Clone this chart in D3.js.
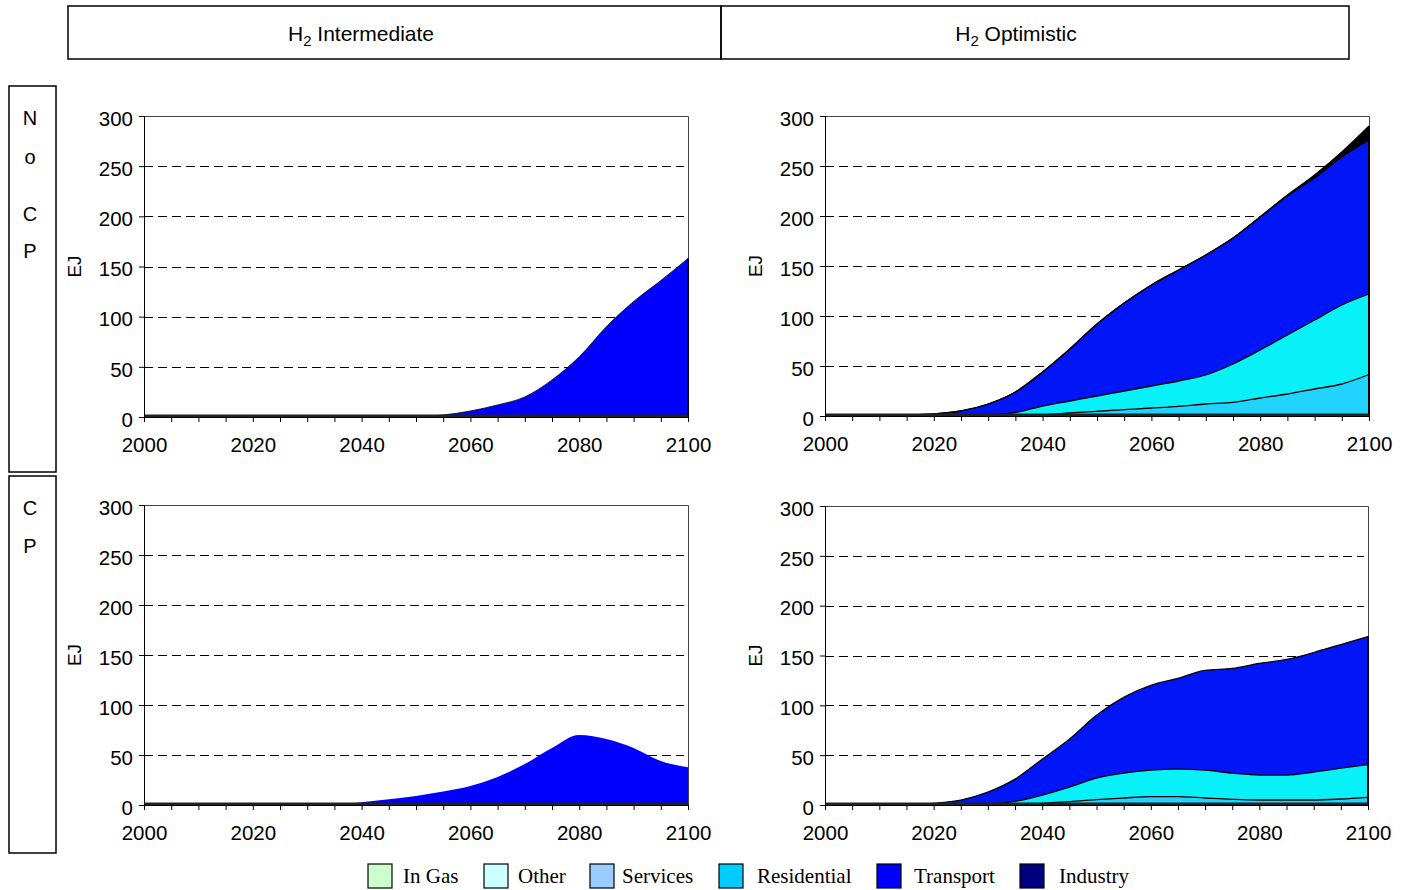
<!DOCTYPE html>
<html>
<head>
<meta charset="utf-8">
<script src="https://cdn.jsdelivr.net/npm/d3@7/dist/d3.min.js"></script>
<style>
  body { margin: 0; background: #fff; }
  svg text { font-family: "Liberation Sans", Arial, sans-serif; fill: #000; }
</style>
</head>
<body>
<div id="chart"></div>
<script>
// years every 5
const years = [2000, 2005, 2010, 2015, 2020, 2025, 2030, 2035, 2040, 2045, 2050,
               2055, 2060, 2065, 2070, 2075, 2080, 2085, 2090, 2095, 2100];

const yTicks = [0, 50, 100, 150, 200, 250, 300];
const xLabelYears = [2000, 2020, 2040, 2060, 2080, 2100];

const legendNames = ['In Gas', 'Other', 'Services', 'Residential', 'Transport', 'Industry'];
const legendColors = ['#ccffcc', '#ccffff', '#99ccff', '#00ccff', '#0000ff', '#000080'];

// No CP, H2 Intermediate
const noCpInterTransport = [0, 0, 0, 0, 0, 0, 0, 0, 0, 0, 0.5, 2, 6, 12, 20, 37, 60, 90, 115, 136, 158];

// No CP, H2 Optimistic
const noCpOptServices    = [0, 0, 0, 0, 0, 0, 0, 0.3, 1.3, 3, 4.7, 6.4, 8, 9.7, 12, 13.7, 18, 22, 27, 32, 41.5];
const noCpOptResidential = [0, 0, 0, 0, 0, 0, 0.5, 3.2, 8.7, 12, 15.3, 18.6, 22, 25.3, 29, 38.3, 48, 59, 69, 79, 80.5];
const noCpOptTransport   = [0.3, 0.3, 0.5, 1, 2, 5, 11.5, 20.5, 34, 52, 72, 88, 101, 111, 120, 126, 133, 139, 142, 148, 154];
const noCpOptIndustry    = [0, 0, 0, 0, 0, 0, 0, 0, 0, 0, 0, 0, 0, 0, 0, 0, 0.3, 1, 3, 5, 14];

// CP, H2 Intermediate
const cpInterTransport = [0, 0, 0, 0, 0, 0, 0, 0.5, 2.7, 5.7, 9, 13.4, 19, 28, 41, 57, 70, 66, 57, 44, 37.8];

// CP, H2 Optimistic
const cpOptServices    = [0, 0, 0, 0, 0, 0, 0, 0, 1.7, 3.4, 5.4, 7, 8.4, 8.4, 7, 5.7, 5, 5, 5, 6, 7.7];
const cpOptResidential = [0, 0, 0, 0, 0, 0, 1, 3.7, 8.3, 14.6, 21.6, 25, 26.6, 27.6, 28, 26.3, 25, 25, 28, 31, 32.9];
const cpOptTransport   = [0, 0, 0, 0.3, 1.7, 5, 12, 22.3, 36, 48, 63, 76, 85, 91, 100, 105, 112, 116, 120, 124, 128.4];

const panels = [
    { x0: 144, x1: 688, y0: 417, y1: 116, outline: 0.8,
      series: [{ key: 'Transport', values: noCpInterTransport, color: '#0000ff' }] },
    { x0: 825, x1: 1369, y0: 416, y1: 116, outline: 1.3,
      series: [
        { key: 'Services', values: noCpOptServices, color: '#22d3ff' },
        { key: 'Residential', values: noCpOptResidential, color: '#08f0f8' },
        { key: 'Transport', values: noCpOptTransport, color: '#0016f6' },
        { key: 'Industry', values: noCpOptIndustry, color: '#000000' }] },
    { x0: 144, x1: 688, y0: 805, y1: 505, outline: 0,
      series: [{ key: 'Transport', values: cpInterTransport, color: '#0000ff' }] },
    { x0: 825, x1: 1368, y0: 805, y1: 506, outline: 1.3,
      series: [
        { key: 'Services', values: cpOptServices, color: '#22d3ff' },
        { key: 'Residential', values: cpOptResidential, color: '#08f0f8' },
        { key: 'Transport', values: cpOptTransport, color: '#0016f6' }] }
];

const svg = d3.select('#chart').append('svg')
    .attr('width', 1412)
    .attr('height', 890);

// Column headers
const headers = [
    { x: 68, w: 653, tx: 361, label: 'Intermediate' },
    { x: 721, w: 628, tx: 1016, label: 'Optimistic' }
];
headers.forEach(h => {
    svg.append('rect')
        .attr('x', h.x).attr('y', 6).attr('width', h.w).attr('height', 53)
        .attr('fill', 'none').attr('stroke', '#000').attr('stroke-width', 1.5);
    const t = svg.append('text')
        .attr('x', h.tx).attr('y', 41)
        .attr('text-anchor', 'middle')
        .style('font-size', '21px');
    t.append('tspan').text('H');
    t.append('tspan').text('2').attr('dy', 5).style('font-size', '15px');
    t.append('tspan').text(' ' + h.label).attr('dy', -5);
});

// Row labels
const rows = [
    { y: 86, h: 386, letters: [['N', 118], ['o', 157], ['C', 214], ['P', 251]] },
    { y: 476, h: 377, letters: [['C', 508], ['P', 546]] }
];
rows.forEach(r => {
    svg.append('rect')
        .attr('x', 9).attr('y', r.y).attr('width', 47).attr('height', r.h)
        .attr('fill', 'none').attr('stroke', '#000').attr('stroke-width', 1.5);
    r.letters.forEach(([ch, cy]) => {
        svg.append('text')
            .attr('x', 30).attr('y', cy + 7)
            .attr('text-anchor', 'middle')
            .style('font-size', '20px')
            .text(ch);
    });
});

// Panels
panels.forEach(p => {
    const g = svg.append('g');

    const x = d3.scaleLinear().domain([2000, 2100]).range([p.x0, p.x1]);
    const y = d3.scaleLinear().domain([0, 300]).range([p.y0, p.y1]);

    // frame (top + right)
    g.append('path')
        .attr('d', `M${p.x0},${p.y1 + 0.5}H${p.x1 + 0.5}V${p.y0}`)
        .attr('fill', 'none').attr('stroke', '#444').attr('stroke-width', 1);

    // dashed grid
    g.selectAll('line.grid')
        .data(yTicks.filter(d => d > 0 && d < 300))
        .join('line')
        .attr('class', 'grid')
        .attr('x1', p.x0).attr('x2', p.x1 - 4)
        .attr('y1', d => Math.round(y(d)) + 0.5).attr('y2', d => Math.round(y(d)) + 0.5)
        .attr('stroke', '#000').attr('stroke-width', 1)
        .attr('stroke-dasharray', '9,5');

    // stacked areas
    const keys = p.series.map(s => s.key);
    const rowsData = years.map((yr, i) => {
        const o = { year: yr };
        p.series.forEach(s => { o[s.key] = s.values[i]; });
        return o;
    });
    const stacked = d3.stack().keys(keys)(rowsData);

    const area = d3.area()
        .x(d => x(d.data.year))
        .y0(d => y(d[0]))
        .y1(d => y(d[1]))
        .curve(d3.curveMonotoneX);

    const topLine = d3.line()
        .x(d => x(d.data.year))
        .y(d => y(d[1]))
        .curve(d3.curveMonotoneX);

    stacked.forEach((layer, i) => {
        g.append('path')
            .attr('d', area(layer))
            .attr('fill', p.series[i].color);
    });
    if (p.outline > 0) {
        stacked.forEach(layer => {
            g.append('path')
                .attr('d', topLine(layer))
                .attr('fill', 'none')
                .attr('stroke', '#000')
                .attr('stroke-width', p.outline);
        });
        // right edge of the areas
        const total = stacked[stacked.length - 1];
        g.append('line')
            .attr('x1', p.x1).attr('x2', p.x1)
            .attr('y1', p.y0).attr('y2', y(total[total.length - 1][1]))
            .attr('stroke', '#000').attr('stroke-width', 2);
    }

    // heavy baseline
    g.append('line')
        .attr('x1', p.x0).attr('x2', p.x1)
        .attr('y1', p.y0 - 1).attr('y2', p.y0 - 1)
        .attr('stroke', '#222').attr('stroke-width', 3);

    // y axis
    const yAxisG = g.append('g')
        .attr('transform', `translate(${p.x0},0)`)
        .call(d3.axisLeft(y).tickValues(yTicks).tickSize(5).tickPadding(6));
    yAxisG.selectAll('text')
        .style('font-size', '20.5px')
        .attr('dy', '0.45em');
    yAxisG.selectAll('line, path').attr('stroke', '#000');

    // x axis
    const xAxisG = g.append('g')
        .attr('transform', `translate(0,${p.y0})`)
        .call(d3.axisBottom(x)
            .tickValues(years)
            .tickSize(5)
            .tickPadding(15)
            .tickFormat(d => xLabelYears.includes(d) ? d : ''));
    xAxisG.selectAll('text').style('font-size', '20.5px');
    xAxisG.selectAll('line, path').attr('stroke', '#000');

    // EJ label
    svg.append('text')
        .attr('transform', `translate(${p.x0 - 63},${(p.y0 + p.y1) / 2}) rotate(-90)`)
        .attr('text-anchor', 'middle')
        .style('font-size', '19px')
        .text('EJ');
});

// Legend
const legendX = [368, 484, 590, 719, 877, 1020];
const legendTextX = [403, 518, 622, 757, 914, 1059];
const legend = svg.append('g');
legendNames.forEach((name, i) => {
    legend.append('rect')
        .attr('x', legendX[i]).attr('y', 864)
        .attr('width', 24).attr('height', 24)
        .attr('fill', legendColors[i])
        .attr('stroke', '#000').attr('stroke-width', 1.2);
    legend.append('text')
        .attr('x', legendTextX[i]).attr('y', 883)
        .style('font-family', '"Liberation Serif", "Times New Roman", serif')
        .style('font-size', '21px')
        .text(name);
});
</script>
</body>
</html>
